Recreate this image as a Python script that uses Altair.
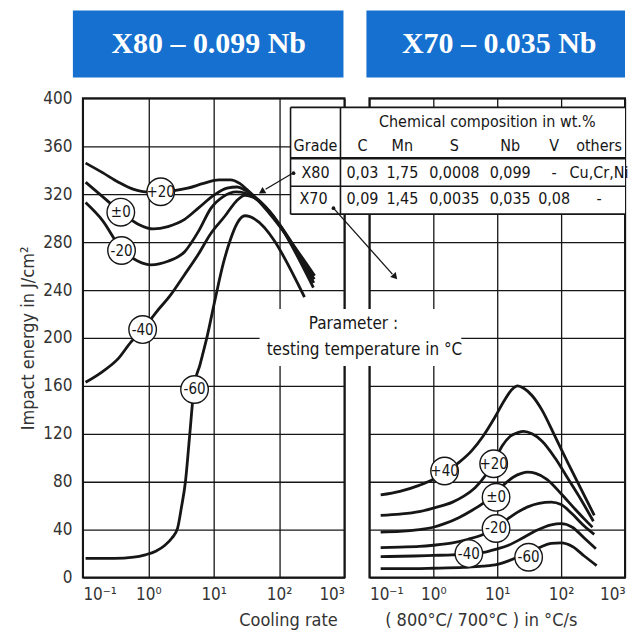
import altair as alt
import pandas as pd

FONT = "DejaVu Sans Condensed, Liberation Sans Narrow, Roboto, DejaVu Sans, sans-serif"
INK = "#161616"
GREY = "#333333"
BLUE = "#1570cf"

# ---------------- X80 - 0.099 Nb (left panel) ----------------
x80_p20_rate = [0.11, 0.2, 0.35, 0.6, 0.9, 1.5, 2.5, 4, 7, 12, 18, 25, 32, 350]
x80_p20_energy = [346, 338, 330, 324, 322, 322, 323, 325, 329, 332, 332, 329, 324, 252]
x80_0_rate = [0.11, 0.2, 0.38, 0.7, 1.2, 2, 3.6, 6, 10, 16, 23, 31, 345]
x80_0_energy = [330, 318, 305, 295, 291, 293, 299, 309, 319, 325, 326, 323, 249]
x80_m20_rate = [0.11, 0.2, 0.38, 0.7, 1.1, 2, 3.6, 6, 9, 14, 22, 30, 340]
x80_m20_energy = [313, 298, 275, 264, 261, 264, 272, 290, 308, 318, 322, 321, 246]
x80_m40_rate = [0.11, 0.2, 0.35, 0.55, 0.83, 1.3, 2.2, 3.5, 5.7, 9, 15, 22, 30, 335]
x80_m40_energy = [163, 172, 183, 197, 207, 221, 236, 252, 269, 287, 302, 314, 319, 242]
x80_m60_rate = [0.11, 0.3, 0.6, 0.9, 1.3, 1.8, 2.3, 2.8, 3.2, 3.7, 4.3, 5.0, 6.2, 8.0, 10.5, 14, 18, 23, 30, 245]
x80_m60_energy = [16, 16, 17, 19, 22, 27, 33, 41, 58, 80, 119, 158, 178, 202, 232, 262, 282, 296, 302, 234]

x80_label_text = ["+20", "±0", "-20", "-40", "-60"]
x80_label_rate = [1.55, 0.38, 0.39, 0.82, 5.1]
x80_label_energy = [322, 305, 273, 207, 157]

# ---------------- X70 - 0.035 Nb (right panel) ----------------
x70_p40_rate = [0.15, 0.3, 0.6, 1.0, 1.5, 2.5, 4, 6, 9, 13, 17, 21, 26, 35, 50, 80, 130, 200, 330]
x70_p40_energy = [69, 72, 77, 82, 88, 96, 106, 118, 133, 148, 157, 160, 158, 152, 140, 118, 95, 75, 52]
x70_p20_rate = [0.15, 0.3, 0.6, 1, 2, 3, 4.5, 6.5, 9, 12, 16, 21, 26, 35, 50, 80, 130, 200, 320]
x70_p20_energy = [52, 53, 55, 58, 63, 68, 75, 85, 97, 110, 118, 121, 122, 120, 114, 100, 82, 66, 47]
x70_0_rate = [0.15, 0.3, 0.6, 1, 1.5, 2.5, 4, 6, 9, 13, 18, 24, 30, 40, 60, 100, 160, 230, 310]
x70_0_energy = [38, 38.5, 40, 42, 45, 50, 56, 62, 69, 78, 84, 87, 88, 87, 82, 70, 58, 49, 42]
x70_m20_rate = [0.15, 0.3, 0.6, 1, 2, 3.5, 6, 9, 13, 20, 30, 45, 70, 100, 150, 230, 330]
x70_m20_energy = [25, 25.5, 26, 27, 29, 32, 36, 41, 47, 54, 59, 62, 63, 61, 53, 43, 36]
x70_m40_rate = [0.15, 0.5, 1, 2, 3.5, 6, 10, 15, 25, 40, 70, 100, 150, 230, 350]
x70_m40_energy = [17.5, 18, 18.5, 19, 20, 21, 24, 27, 33, 39, 44, 45, 42, 33, 24]
x70_m60_rate = [0.15, 0.5, 1, 3, 6, 10, 15, 25, 35, 50, 70, 100, 150, 230, 360]
x70_m60_energy = [7.5, 7.5, 7.8, 8.5, 9.5, 11, 14, 19, 22, 26, 28.5, 29, 26, 18, 10]

x70_label_text = ["+40", "+20", "±0", "-20", "-40", "-60"]
x70_label_rate = [1.5, 8.8, 9.6, 9.6, 3.6, 31]
x70_label_energy = [89, 95, 67, 41, 20, 17]

decade_ticks = [0.1, 1, 10, 100, 1000]
energy_ticks = list(range(0, 401, 40))

# table text
table_head = ["Grade", "C", "Mn", "S", "Nb", "V", "others"]
table_x80 = ["X80", "0,03", "1,75", "0,0008", "0,099", "-", "Cu,Cr,Ni"]
table_x70 = ["X70", "0,09", "1,45", "0,0035", "0,035", "0,08", "-"]


def series_frame(pairs):
    rows = []
    for name, xs, ys in pairs:
        for x, y in zip(xs, ys):
            rows.append({"s": name, "rate": x, "energy": y})
    return pd.DataFrame(rows)


x80_df = series_frame([
    ("+20", x80_p20_rate, x80_p20_energy),
    ("±0", x80_0_rate, x80_0_energy),
    ("-20", x80_m20_rate, x80_m20_energy),
    ("-40", x80_m40_rate, x80_m40_energy),
    ("-60", x80_m60_rate, x80_m60_energy),
])
x70_df = series_frame([
    ("+40", x70_p40_rate, x70_p40_energy),
    ("+20", x70_p20_rate, x70_p20_energy),
    ("±0", x70_0_rate, x70_0_energy),
    ("-20", x70_m20_rate, x70_m20_energy),
    ("-40", x70_m40_rate, x70_m40_energy),
    ("-60", x70_m60_rate, x70_m60_energy),
])
x80_lab = pd.DataFrame({"t": x80_label_text, "rate": x80_label_rate, "energy": x80_label_energy})
x70_lab = pd.DataFrame({"t": x70_label_text, "rate": x70_label_rate, "energy": x70_label_energy})

LABEL_EXPR = ("datum.value < 0.5 ? '10⁻¹' : datum.value < 5 ? '10⁰' : "
              "datum.value < 50 ? '10¹' : datum.value < 500 ? '10²' : '10³'")

x_axis = alt.Axis(values=decade_ticks, labelExpr=LABEL_EXPR, grid=True, domain=False,
                  ticks=False, title=None, labelFont=FONT, labelFontSize=17,
                  labelColor=GREY, labelPadding=9)
y_axis_left = alt.Axis(values=energy_ticks, grid=True, domain=False, ticks=False,
                       title="Impact  energy   in   J/cm²", labelFont=FONT, labelFontSize=17,
                       labelColor=GREY, labelPadding=11, titleFont=FONT,
                       titleFontSize=18, titleFontWeight="normal", titleColor=GREY,
                       titlePadding=5)
y_axis_right = alt.Axis(values=energy_ticks, grid=True, domain=False, ticks=False,
                        labels=False, title=None)

xs = alt.Scale(type="log", domain=[0.1, 1000])
ys = alt.Scale(domain=[0, 400])


def curves(df, yaxis):
    return alt.Chart(df).mark_line(interpolate="monotone", color=INK, strokeWidth=2.8).encode(
        x=alt.X("rate:Q", scale=xs, axis=x_axis),
        y=alt.Y("energy:Q", scale=ys, axis=yaxis),
        detail="s:N",
    )


def labels(df):
    circ = alt.Chart(df).mark_point(shape="circle", filled=True, fill="white", stroke=INK,
                                    strokeWidth=1.4, size=760, opacity=1).encode(
        x=alt.X("rate:Q", scale=xs), y=alt.Y("energy:Q", scale=ys))
    txt = alt.Chart(df).mark_text(font=FONT, fontSize=15, color=INK).encode(
        x=alt.X("rate:Q", scale=xs), y=alt.Y("energy:Q", scale=ys), text="t:N")
    return circ + txt


def px_rect(rows, **kw):
    return alt.Chart(pd.DataFrame(rows, columns=["px", "px2", "py", "py2"])).mark_rect(**kw).encode(
        x=alt.X("px:Q", scale=None), x2="px2:Q", y=alt.Y("py:Q", scale=None), y2="py2:Q")


def px_rules(rows, **kw):
    return alt.Chart(pd.DataFrame(rows, columns=["px", "px2", "py", "py2"])).mark_rule(**kw).encode(
        x=alt.X("px:Q", scale=None), x2="px2:Q", y=alt.Y("py:Q", scale=None), y2="py2:Q")


def px_text(rows, **kw):
    return alt.Chart(pd.DataFrame(rows, columns=["t", "px", "py"])).mark_text(**kw).encode(
        x=alt.X("px:Q", scale=None), y=alt.Y("py:Q", scale=None), text="t:N")


# ---- left panel ----
left_header = (
    px_rect([[-10, 261, -88, -21]], color=BLUE)
    + px_text([["X80 – 0.099 Nb", 126, -54]], font="Liberation Serif", fontSize=30,
              fontWeight="bold", color="white", baseline="middle")
)
left = alt.layer(
    curves(x80_df, y_axis_left),
    labels(x80_lab),
    left_header,
).properties(width=262, height=480)

# ---- right panel ----
RW = 256
right_header = (
    px_rect([[-3, RW, -88, -21]], color=BLUE)
    + px_text([["X70 – 0.035 Nb", 130, -54]], font="Liberation Serif", fontSize=30,
              fontWeight="bold", color="white", baseline="middle")
)
param_box = (
    px_rect([[-110, 92, 211, 268]], color="white")
    + px_text([["Parameter :", -16, 226], ["testing temperature in °C", -5, 252]],
              font=FONT, fontSize=17, color=INK, baseline="middle")
)
col_x = [-54, -7, 33, 85, 141, 185, 230]
table_rows = []
for t, x in zip(table_head, col_x):
    table_rows.append([t, x, 48])
for t, x in zip(table_x80, col_x):
    table_rows.append([t, x, 75])
for t, x in zip(table_x70, col_x):
    table_rows.append([t, x - (2 if t == "X70" else 0), 101])
table_rows.append(["Chemical composition in wt.%", 118, 24])
table = (
    px_rect([[-79, RW, 9, 116]], color="white")
    + px_rules([[-79, RW, 9, 9], [-79, RW, 116, 116], [-79, -79, 9, 116],
                [-29, -29, 9, 116], [-79, RW, 88, 88]], color=INK, strokeWidth=1.6)
    + px_rules([[-79, RW, 60, 60]], color=INK, strokeWidth=2.6)
    + px_text(table_rows, font=FONT, fontSize=16, color=INK, baseline="middle")
)
arrows = (
    px_rules([[-77, -104, 75, 91], [-36, 23, 110, 176]], color=INK, strokeWidth=1.3)
    + alt.Chart(pd.DataFrame({"px": [-107], "py": [93]})).mark_point(
        shape="triangle", filled=True, color=INK, size=55, angle=239, opacity=1).encode(
        x=alt.X("px:Q", scale=None), y=alt.Y("py:Q", scale=None))
    + alt.Chart(pd.DataFrame({"px": [25], "py": [178]})).mark_point(
        shape="triangle", filled=True, color=INK, size=55, angle=138, opacity=1).encode(
        x=alt.X("px:Q", scale=None), y=alt.Y("py:Q", scale=None))
    + alt.Chart(pd.DataFrame({"px": [-76, -36], "py": [75, 110]})).mark_point(
        shape="circle", filled=True, color=INK, size=14, opacity=1).encode(
        x=alt.X("px:Q", scale=None), y=alt.Y("py:Q", scale=None))
)
x_title = px_text([["Cooling rate", -81, 523], ["( 800°C/ 700°C ) in °C/s", 112, 523]],
                  font=FONT, fontSize=18, color=GREY, baseline="middle")

right = alt.layer(
    curves(x70_df, y_axis_right),
    labels(x70_lab),
    right_header,
    param_box,
    table,
    arrows,
    x_title,
).properties(width=RW, height=480)

chart = alt.hconcat(left, right, spacing=25, bounds="flush").properties(
    padding={"left": 10, "top": 1, "right": 0, "bottom": 0},
    background="white",
).configure_view(stroke=INK, strokeWidth=2).configure_axis(
    gridColor=INK, gridWidth=1.3, gridOpacity=1
)

chart.save("out.html", embed_options={"renderer": "svg", "actions": False})
